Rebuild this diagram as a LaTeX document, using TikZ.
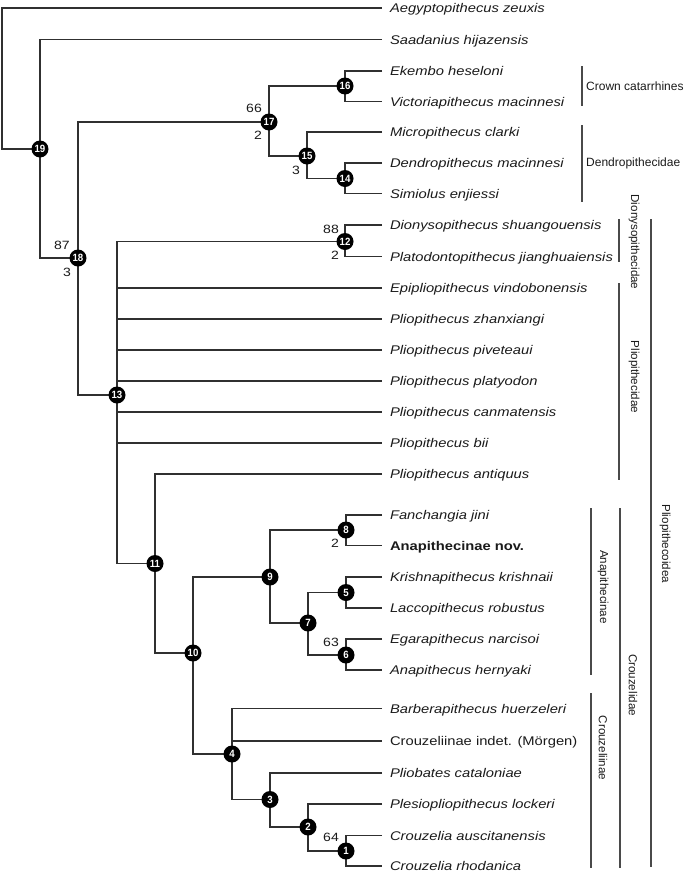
\documentclass[tikz,border=0pt]{standalone}
\usepackage{fontspec}
\setmainfont{Liberation Sans}
\newfontfamily\spfont[FakeStretch=1.17]{Liberation Sans}
\newfontfamily\grpfont{Liberation Sans}
\newfontfamily\numfont[FakeStretch=0.92]{Liberation Sans}
\usetikzlibrary{backgrounds}
\definecolor{ln}{HTML}{303030}
\definecolor{brc}{HTML}{4A4A4A}
\definecolor{tx}{HTML}{1A1A1A}
\begin{document}
\begin{tikzpicture}[x=1pt,y=-1pt,
  nd/.style={circle,fill=black,inner sep=0pt,minimum size=17pt,text=white,
    font=\numfont\fontsize{10.5}{11}\selectfont\bfseries},
  leaf/.style={anchor=west,inner xsep=8pt,inner ysep=0pt,outer sep=0pt,
    text height=9pt,text depth=0pt,text=tx,
    font=\spfont\fontsize{12.6}{14}\selectfont\itshape},
  bs/.style={inner sep=0pt,text=tx,font=\spfont\fontsize{12}{13}\selectfont},
  grp/.style={inner sep=0pt,text=tx,font=\grpfont\fontsize{12}{13}\selectfont},
  grpv/.style={inner sep=0pt,text=tx,rotate=-90,font=\grpfont\fontsize{11.6}{13}\selectfont},
  tree/.style={draw=ln,line width=1.35pt},
  brk/.style={draw=brc,line width=1.2pt}]
\useasboundingbox (0,0) rectangle (685,873);

% leaves
\node[leaf] (L1) at (382,8) {Aegyptopithecus zeuxis};
\node[leaf] (L2) at (382,39.5) {Saadanius hijazensis};
\node[leaf] (L3) at (382,71) {Ekembo heseloni};
\node[leaf] (L4) at (382,101.5) {Victoriapithecus macinnesi};
\node[leaf] (L5) at (382,132) {Micropithecus clarki};
\node[leaf] (L6) at (382,163) {Dendropithecus macinnesi};
\node[leaf] (L7) at (382,193.5) {Simiolus enjiessi};
\node[leaf] (L8) at (382,225) {Dionysopithecus shuangouensis};
\node[leaf] (L9) at (382,256.5) {Platodontopithecus jianghuaiensis};
\node[leaf] (L10) at (382,288) {Epipliopithecus vindobonensis};
\node[leaf] (L11) at (382,319) {Pliopithecus zhanxiangi};
\node[leaf] (L12) at (382,350) {Pliopithecus piveteaui};
\node[leaf] (L13) at (382,381) {Pliopithecus platyodon};
\node[leaf] (L14) at (382,412) {Pliopithecus canmatensis};
\node[leaf] (L15) at (382,443) {Pliopithecus bii};
\node[leaf] (L16) at (382,474) {Pliopithecus antiquus};
\node[leaf] (L17) at (382,515) {Fanchangia jini};
\node[leaf,font=\spfont\fontsize{12.6}{14}\selectfont\bfseries] (L18) at (382,545.5) {Anapithecinae nov.};
\node[leaf] (L19) at (382,577) {Krishnapithecus krishnaii};
\node[leaf] (L20) at (382,608) {Laccopithecus robustus};
\node[leaf] (L21) at (382,639) {Egarapithecus narcisoi};
\node[leaf] (L22) at (382,670) {Anapithecus hernyaki};
\node[leaf] (L23) at (382,708.5) {Barberapithecus huerzeleri};
\node[leaf,font=\spfont\fontsize{12.6}{14}\selectfont\upshape] (L24) at (382,741) {Crouzeliinae indet. (Mörgen)};
\node[leaf] (L25) at (382,773) {Pliobates cataloniae};
\node[leaf] (L26) at (382,804) {Plesiopliopithecus lockeri};
\node[leaf] (L27) at (382,835.5) {Crouzelia auscitanensis};
\node[leaf] (L28) at (382,866) {Crouzelia rhodanica};

% internal nodes
\node[nd] (c19) at (40,149) {19};
\node[nd] (c18) at (78,258) {18};
\node[nd] (c17) at (269,122) {17};
\node[nd] (c16) at (345,86) {16};
\node[nd] (c15) at (307,156) {15};
\node[nd] (c14) at (345,178.5) {14};
\node[nd] (c13) at (117,395) {13};
\node[nd] (c12) at (345,241.5) {12};
\node[nd] (c11) at (155,563.5) {11};
\node[nd] (c10) at (193,653) {10};
\node[nd] (c9) at (270,577) {9};
\node[nd] (c8) at (346,530) {8};
\node[nd] (c7) at (308,623) {7};
\node[nd] (c6) at (346,655) {6};
\node[nd] (c5) at (346,592.5) {5};
\node[nd] (c4) at (232,754) {4};
\node[nd] (c3) at (270,799.5) {3};
\node[nd] (c2) at (308,827) {2};
\node[nd] (c1) at (346,851) {1};

% support values
\node[bs] (s17a) at (254,108) {66};
\node[bs] (s17b) at (258,135) {2};
\node[bs] (s18a) at (62,245) {87};
\node[bs] (s18b) at (67,272.5) {3};
\node[bs] (s15) at (296,170) {3};
\node[bs] (s12a) at (331,229) {88};
\node[bs] (s12b) at (335,255) {2};
\node[bs] (s8) at (335,543) {2};
\node[bs] (s6) at (331,642) {63};
\node[bs] (s1) at (331,837) {64};

% tree lines
\begin{scope}[on background layer]
\coordinate (root) at (2,149);
\draw[tree] (c19.center) -- (root) |- (L1.west);
\draw[tree] (L2.west) -| (c19.center) |- (c18.center);
\draw[tree] (c17.center) -| (c18.center) |- (c13.center);
\draw[tree] (c16.center) -| (c17.center) |- (c15.center);
\draw[tree] (L3.west) -| (c16.center) |- (L4.west);
\draw[tree] (L5.west) -| (c15.center) |- (c14.center);
\draw[tree] (L6.west) -| (c14.center) |- (L7.west);
\draw[tree] (c12.center) -| (c13.center) |- (c11.center);
\foreach \k in {10,...,15} {\draw[tree] (c13.center) |- (L\k.west);}
\draw[tree] (L8.west) -| (c12.center) |- (L9.west);
\draw[tree] (L16.west) -| (c11.center) |- (c10.center);
\draw[tree] (c9.center) -| (c10.center) |- (c4.center);
\draw[tree] (c8.center) -| (c9.center) |- (c7.center);
\draw[tree] (L17.west) -| (c8.center) |- (L18.west);
\draw[tree] (c5.center) -| (c7.center) |- (c6.center);
\draw[tree] (L19.west) -| (c5.center) |- (L20.west);
\draw[tree] (L21.west) -| (c6.center) |- (L22.west);
\draw[tree] (L23.west) -| (c4.center) |- (c3.center);
\draw[tree] (c4.center) |- (L24.west);
\draw[tree] (L25.west) -| (c3.center) |- (c2.center);
\draw[tree] (L26.west) -| (c2.center) |- (c1.center);
\draw[tree] (L27.west) -| (c1.center) |- (L28.west);
\end{scope}

% group brackets
\coordinate (b1a) at (582,66);  \coordinate (b1b) at (582,106);
\draw[brk] (b1a) -- (b1b);
\node[grp,anchor=west] (g1) at (586,86) {Crown catarrhines};
\coordinate (b2a) at (582,125); \coordinate (b2b) at (582,202);
\draw[brk] (b2a) -- (b2b);
\node[grp,anchor=west] (g2) at (586,163) {Dendropithecidae};
\coordinate (b3a) at (619,219); \coordinate (b3b) at (619,262);
\draw[brk] (b3a) -- (b3b);
\node[grpv] (g3) at (634,242) {Dionysopithecidae};
\coordinate (b4a) at (619,283); \coordinate (b4b) at (619,480);
\draw[brk] (b4a) -- (b4b);
\node[grpv] (g4) at (634,377) {Pliopithecidae};
\coordinate (b5a) at (651,219); \coordinate (b5b) at (651,867);
\draw[brk] (b5a) -- (b5b);
\node[grpv] (g5) at (665,544) {Pliopithecoidea};
\coordinate (b6a) at (591,508); \coordinate (b6b) at (591,675);
\draw[brk] (b6a) -- (b6b);
\node[grpv] (g6) at (603,587) {Anapithecinae};
\coordinate (b7a) at (620,508); \coordinate (b7b) at (620,868);
\draw[brk] (b7a) -- (b7b);
\node[grpv] (g7) at (633,685) {Crouzelidae};
\coordinate (b8a) at (591,693); \coordinate (b8b) at (591,868);
\draw[brk] (b8a) -- (b8b);
\node[grpv] (g8) at (603,748) {Crouzeliinae};
\end{tikzpicture}
\end{document}
